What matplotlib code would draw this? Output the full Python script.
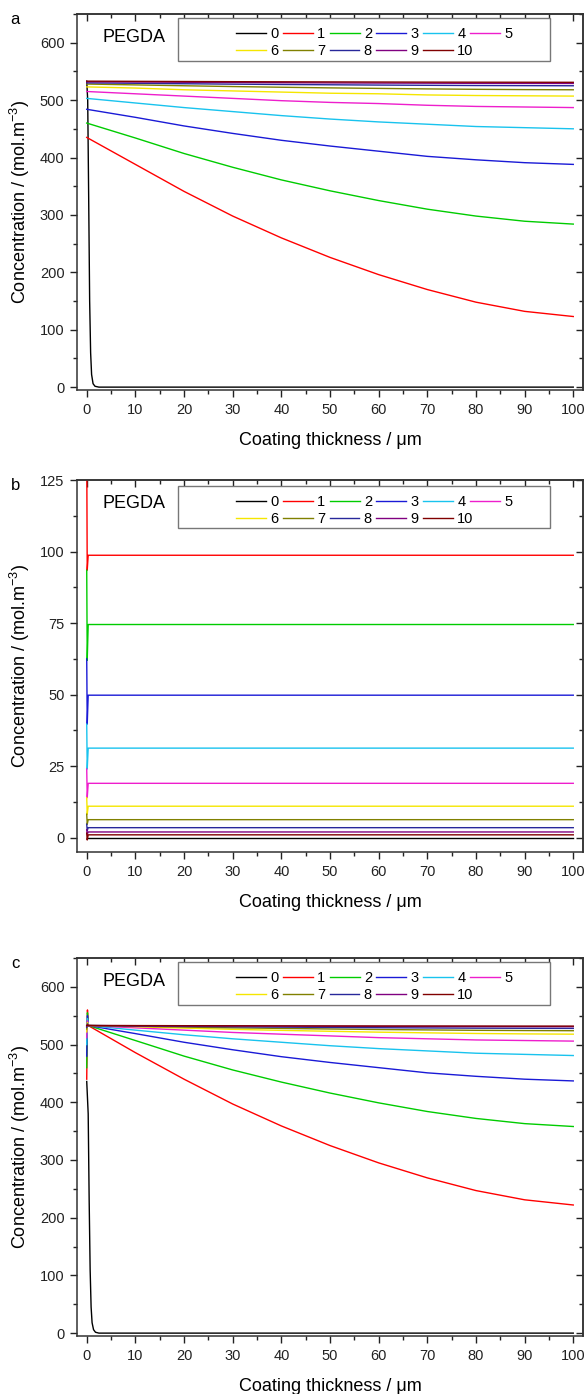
import numpy as np
import matplotlib.pyplot as plt
from matplotlib.ticker import MultipleLocator
from matplotlib.patches import Rectangle
from matplotlib.legend import Legend

plt.rcParams['font.family'] = ['Liberation Sans', 'DejaVu Sans']
plt.rcParams['mathtext.fontset'] = 'custom'
plt.rcParams['mathtext.rm'] = 'Liberation Sans'

# legend labels and Origin-like colours
series_names = ["0", "1", "2", "3", "4", "5", "6", "7", "8", "9", "10"]
colors = ["#000000", "#ff0000", "#00cc00", "#1a1ad6", "#19c3ee", "#ee1ecc",
          "#f5e600", "#808000", "#28289a", "#800080", "#800000"]

# common thickness grid (um) for the smooth curves
x_grid = [0, 10, 20, 30, 40, 50, 60, 70, 80, 90, 100]

# ---- panel a ----
a_black_x = [0, 0.2, 0.4, 0.6, 0.8, 1.0, 1.3, 1.7, 2.5, 100]
a_black_y = [533, 500, 330, 150, 60, 22, 6, 1.5, 0, 0]
a_curves = [
    [435, 388, 341, 298, 260, 226, 196, 170, 148, 132, 123],
    [460, 434, 407, 383, 361, 342, 325, 310, 298, 289, 284],
    [484, 470, 455, 442, 430, 420, 411, 402, 396, 391, 388],
    [503, 495, 487, 480, 473, 467, 462, 458, 454, 452, 450],
    [515, 511, 507, 503, 499, 496, 494, 491, 489, 488, 487],
    [523, 521, 518, 516, 514, 512, 511, 509, 508, 507.5, 507],
    [528, 526.5, 525, 523.6, 522.4, 521.3, 520.4, 519.5, 518.8, 518.3, 518],
    [530, 529.3, 528.5, 527.8, 527.2, 526.7, 526.2, 525.8, 525.4, 525.2, 525],
    [532, 531.6, 531.1, 530.7, 530.3, 530, 529.7, 529.5, 529.2, 529.1, 529],
    [533, 532.7, 532.4, 532.1, 531.9, 531.7, 531.5, 531.3, 531.2, 531.1, 531],
]

# ---- panel b ----  (start, dip, plateau) per series 0..10
b_x = [0, 0.1, 0.3, 100]
b_start = [0, 135, 93.5, 62.5, 39.7, 24, 14, 8.2, 4.7, 2.8, 1.6]
b_dip = [0, 93.5, 62, 39.7, 24, 14, 8.2, 4.7, 2.5, 1.2, -0.8]
b_plateau = [0, 98.7, 74.5, 49.8, 31.3, 19.0, 11.0, 6.3, 3.5, 2.0, 1.0]

# ---- panel c ----
c_black_x = [0, 0.3, 0.5, 0.7, 0.9, 1.1, 1.4, 1.8, 2.5, 100]
c_black_y = [436, 380, 230, 110, 45, 18, 6, 1.5, 0, 0]
c_start = [440, 460, 480, 500, 512, 522, 527, 530, 532, 533]
c_peak = [560, 555, 550, 545, 541, 538, 536, 535, 534, 534]
c_curves = [
    [533, 486, 440, 397, 359, 325, 295, 269, 247, 231, 222],
    [533, 507, 480, 456, 435, 416, 399, 384, 372, 363, 358],
    [533, 519, 504, 491, 479, 469, 460, 451, 445, 440, 437],
    [533, 525, 517, 510, 504, 498, 493, 489, 485, 483, 481],
    [533, 529, 525, 521, 518, 515, 512, 510, 508, 507, 506],
    [533, 531, 528.5, 526.4, 524.6, 523, 521.5, 520.3, 519.2, 518.5, 518],
    [533, 531.7, 530.3, 529, 528, 527, 526.1, 525.4, 524.7, 524.3, 524],
    [533, 532.3, 531.5, 530.8, 530.2, 529.7, 529.2, 528.8, 528.4, 528.2, 528],
    [533, 532.7, 532.4, 532.1, 531.9, 531.7, 531.5, 531.3, 531.2, 531.1, 531],
    [533, 532.9, 532.7, 532.6, 532.4, 532.3, 532.2, 532.2, 532.1, 532, 532],
]

W, H = 587, 1394
fig = plt.figure(figsize=(W / 100, H / 100), dpi=100)


def make_axes(top_px, bottom_px):
    left, right = 77, 583
    return fig.add_axes([left / W, 1 - bottom_px / H, (right - left) / W,
                         (bottom_px - top_px) / H])


ax_a = make_axes(14, 390)
ax_b = make_axes(480, 852)
ax_c = make_axes(958, 1336)

lw = 1.0

# panel a
ax_a.plot(a_black_x, a_black_y, color=colors[0], lw=lw, label=series_names[0])
for i, ys in enumerate(a_curves):
    ax_a.plot(x_grid, ys, color=colors[i + 1], lw=lw, label=series_names[i + 1])

# panel b
for i in range(11):
    ys = [b_start[i], b_dip[i], b_plateau[i], b_plateau[i]]
    ax_b.plot(b_x, ys, color=colors[i], lw=lw, label=series_names[i])

# panel c
ax_c.plot(c_black_x, c_black_y, color=colors[0], lw=lw, label=series_names[0])
for i, ys in enumerate(c_curves):
    xs = [0, 0.15] + [max(v, 0.3) for v in x_grid]
    ax_c.plot(xs, [c_start[i], c_peak[i]] + ys, color=colors[i + 1], lw=lw,
              label=series_names[i + 1])


def style(ax, ylim, ymaj, ymin, letter, box_top_px, box_bot_px, ax_h):
    ax.set_xlim(-2, 102)
    ax.set_ylim(*ylim)
    ax.xaxis.set_major_locator(MultipleLocator(10))
    ax.xaxis.set_minor_locator(MultipleLocator(5))
    ax.yaxis.set_major_locator(MultipleLocator(ymaj))
    ax.yaxis.set_minor_locator(MultipleLocator(ymin))
    ax.tick_params(which='both', direction='out', width=1.0, labelsize=10.5,
                   colors='#222222', pad=4)
    ax.tick_params(which='major', length=5)
    ax.tick_params(which='minor', length=3)
    for s in ax.spines.values():
        s.set_linewidth(1.1)
        s.set_color('#333333')
    # mirrored inward ticks on top and right
    top = ax.secondary_xaxis('top')
    right = ax.secondary_yaxis('right')
    top.xaxis.set_major_locator(MultipleLocator(10))
    top.xaxis.set_minor_locator(MultipleLocator(5))
    right.yaxis.set_major_locator(MultipleLocator(ymaj))
    right.yaxis.set_minor_locator(MultipleLocator(ymin))
    for sec in (top, right):
        sec.tick_params(which='both', direction='in', width=1.0,
                        labeltop=False, labelright=False, colors='#222222')
        sec.tick_params(which='major', length=5)
        sec.tick_params(which='minor', length=3)
        for s in sec.spines.values():
            s.set_linewidth(1.1)
            s.set_color('#333333')

    ax.set_xlabel("Coating thickness / \u03bcm", fontsize=13, labelpad=11)
    ax.set_ylabel("Concentration / (mol.m$^{\\mathregular{-3}}$)", fontsize=13)
    ax.yaxis.set_label_coords(-0.089, 0.5)

    ax.text(0.113, 1 - 24 / ax_h, "PEGDA", transform=ax.transAxes,
            fontsize=13, ha='center', va='center')
    ax.text(-0.122, 1 - 6 / ax_h, letter, transform=ax.transAxes,
            fontsize=12, ha='center', va='center')

    x0 = (178 - 77) / 506
    x1 = (550 - 77) / 506
    y0 = 1 - box_bot_px / ax_h
    y1 = 1 - box_top_px / ax_h
    ax.add_patch(Rectangle((x0, y0), x1 - x0, y1 - y0, transform=ax.transAxes,
                           fill=True, facecolor='white', edgecolor='#777777',
                           lw=1.0, zorder=5))
    # one legend per row so the columns of row 1 are not widened by "10"
    handles, labels = ax.get_legend_handles_labels()
    row_y = [box_top_px + 16, box_top_px + 33]
    for r, idx in enumerate([range(0, 6), range(6, 11)]):
        leg = Legend(ax, [handles[k] for k in idx], [labels[k] for k in idx],
                     ncol=len(idx), loc='center left',
                     bbox_to_anchor=((236 - 77) / 506, 1 - row_y[r] / ax_h),
                     frameon=False, fontsize=10.5, handlelength=2.05,
                     handletextpad=0.3, columnspacing=0.3,
                     borderpad=0, borderaxespad=0)
        leg.set_zorder(6)
        ax.add_artist(leg)


style(ax_a, (-5, 650), 100, 50, "a", 4, 47, 376)
style(ax_b, (-5, 125), 25, 12.5, "b", 6, 48, 372)
style(ax_c, (-5, 650), 100, 50, "c", 4, 47, 378)

fig.savefig("out.png", dpi=100)
